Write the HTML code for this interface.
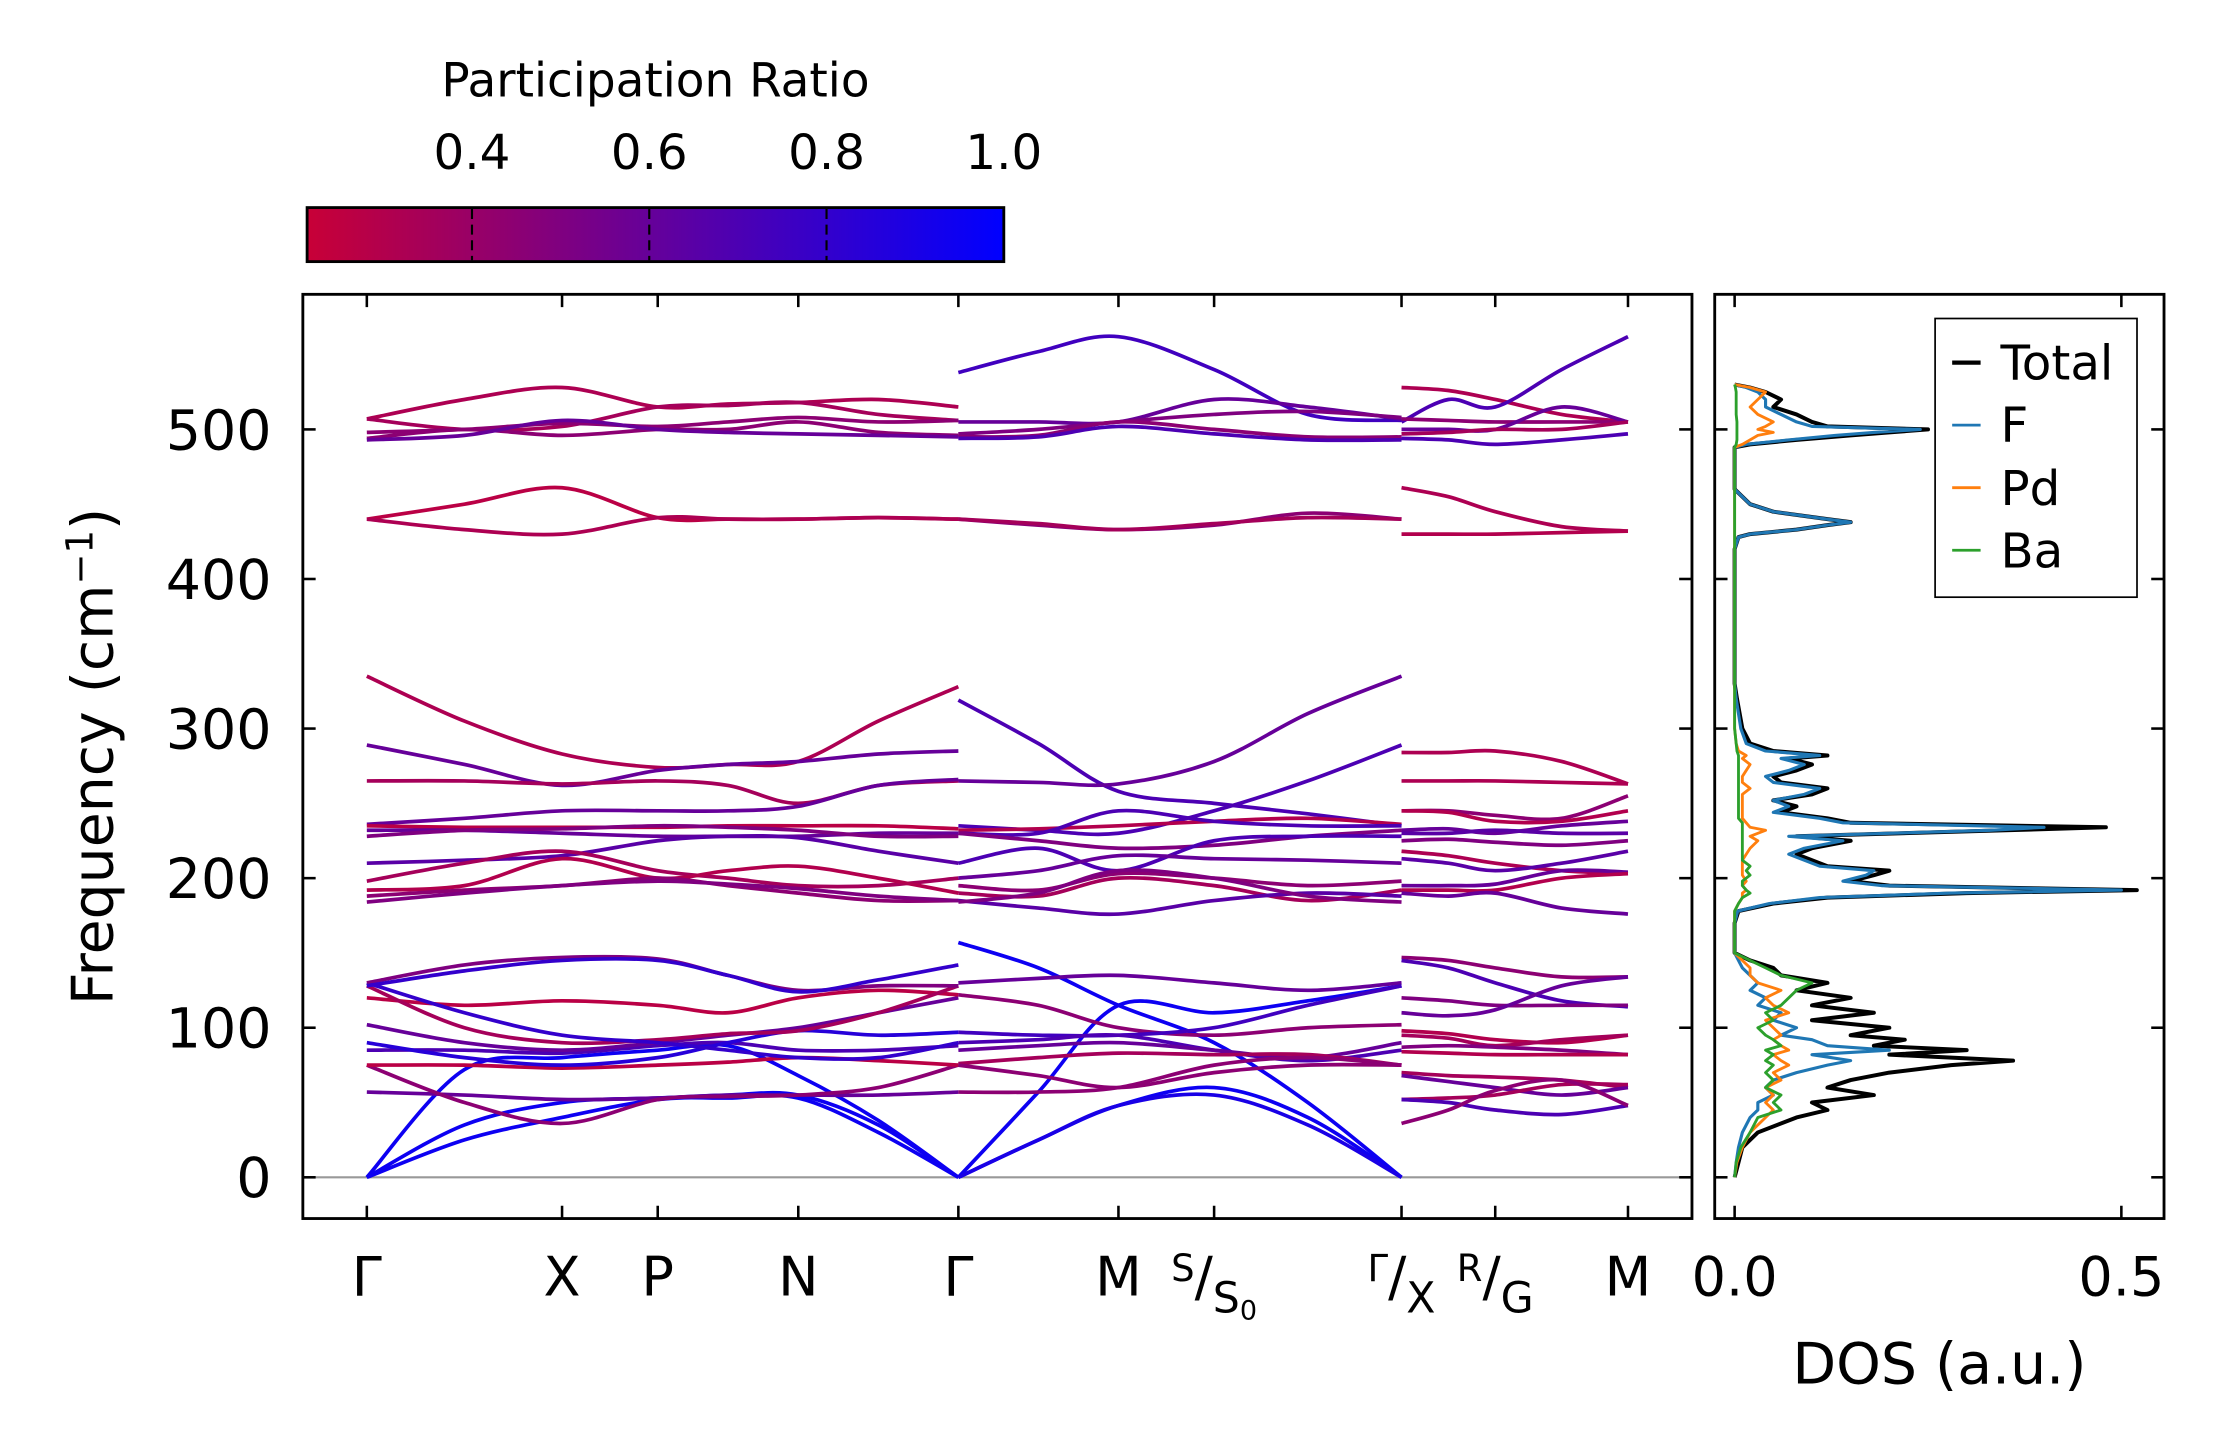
<!DOCTYPE html>
<html><head><meta charset="utf-8"><style>
html,body{margin:0;padding:0;background:#fff;}
svg{display:block;font-family:"DejaVu Sans","Liberation Sans",sans-serif;}
</style></head><body>
<svg id="fig" width="2228" height="1455" viewBox="0 0 1567 1023.3" preserveAspectRatio="none" xmlns="http://www.w3.org/2000/svg">
<defs>
<linearGradient id="cbgrad" x1="0" x2="1" y1="0" y2="0">
<stop offset="0" stop-color="rgb(200,0,55)"/><stop offset="1" stop-color="rgb(0,0,255)"/>
</linearGradient>
<clipPath id="mainclip"><rect x="213" y="207" width="977" height="650"/></clipPath>
<clipPath id="dosclip"><rect x="1206" y="207" width="316" height="650"/></clipPath>
</defs>
<g id="colorbar">
<text x="461" y="68" font-size="33" text-anchor="middle">Participation Ratio</text>
<rect x="216" y="146" width="490" height="38" fill="url(#cbgrad)" stroke="#000" stroke-width="2"/>
<g id="cbticks"></g>
</g>
<g id="mainplot">
<line x1="213" x2="1190" y1="828" y2="828" stroke="#999" stroke-width="1.5"/>
<g id="bands" clip-path="url(#mainclip)"></g>
<rect x="213" y="207" width="977" height="650" fill="none" stroke="#000" stroke-width="2"/>
<g id="mainticks"></g>
<text transform="translate(79,532) rotate(-90)" font-size="40" text-anchor="middle">Frequency (cm<tspan dy="-14" font-size="26">−1</tspan><tspan dy="14">)</tspan></text>
</g>
<g id="dosplot">
<g id="doslines" clip-path="url(#dosclip)"></g>
<rect x="1206" y="207" width="316" height="650" fill="none" stroke="#000" stroke-width="2"/>
<g id="dosticks"></g>
<text x="1364" y="973" font-size="40" text-anchor="middle">DOS (a.u.)</text>
<g id="legend">
<rect x="1361" y="224" width="142" height="196" fill="#fff" stroke="#000" stroke-width="1.2"/>
</g>
</g>
</svg>
<script>
// ---------- Data ----------
const cbTicks = [0.4, 0.6, 0.8, 1.0];
const yTicks = [0, 100, 200, 300, 400, 500];
const kLabels = ["Γ","X","P","N","Γ","M","S/S0","Γ/X","R/G","M"];
const seg1K = [0, 0.5, 1, 1.49, 1.85, 2.21, 2.62, 3.03];
const seg2K = [3.03, 3.44, 3.85, 4.34, 4.82, 5.30];
const seg3K = [5.30, 5.54, 5.78, 6.12, 6.46];
const kTicks = [0, 1, 1.49, 2.21, 3.03, 3.85, 4.34, 5.30, 5.78, 6.46];

const seg1Bands = [
 [0,25,40,52,53,53,30,0],[0,35,50,53,55,55,35,0],[0,72,80,85,88,68,38,0],
 [57,55,52,53,55,55,55,57],[75,50,36,52,54,55,60,75],[75,75,73,75,77,80,78,75],
 [85,85,83,88,90,85,85,88],[90,80,75,80,90,98,95,97],[102,90,85,90,95,100,110,120],
 [120,115,118,115,110,120,125,122],[128,100,90,92,96,98,110,128],[130,110,95,90,85,80,80,90],
 [130,142,147,146,135,125,128,128],[128,138,145,145,135,124,132,142],
 [335,305,283,274,276,278,305,328],[289,276,262,272,276,278,283,285],[265,265,263,265,262,250,262,265],
 [236,240,245,245,245,248,262,266],[235,234,234,234,235,235,235,233],[232,232,230,228,228,228,230,230],
 [228,232,233,235,234,232,228,228],[210,212,215,225,228,227,218,210],[198,210,218,205,200,195,195,200],
 [192,195,213,200,205,208,200,190],[188,192,195,200,195,190,185,185],[184,190,195,198,196,193,188,185],
 [440,450,461,441,440,440,441,440],[440,433,430,441,440,440,441,440],[507,520,528,515,517,518,520,515],
 [507,500,502,515,516,518,510,506],[498,500,504,502,505,508,505,506],[494,500,496,500,500,505,498,496],
 [493,496,506,500,498,497,496,495]
];
const seg1PR = [0.95,0.95,0.95,0.6,0.45,0.27,0.7,0.85,0.6,0.27,0.35,0.8,0.5,0.8,
 0.32,0.6,0.35,0.6,0.27,0.6,0.5,0.65,0.35,0.3,0.45,0.5,0.27,0.32,0.32,0.35,0.45,0.45,0.6];

const seg2Bands = [
 [538,552,562,540,510,506],[505,505,505,520,515,507],[497,500,505,510,512,508],[495,496,505,500,495,495],
 [494,495,502,497,493,493],[440,436,433,436,444,440],[440,437,433,437,441,440],
 [319,290,258,250,243,235],[265,264,263,278,310,335],[235,232,230,245,265,289],[232,233,235,238,240,236],
 [230,230,245,238,235,235],[230,225,220,222,228,232],[210,220,205,225,228,228],[200,205,215,213,212,210],
 [195,192,203,200,195,198],[190,188,200,195,185,192],[185,180,176,185,190,188],[184,190,205,200,188,184],
 [0,57,115,110,118,128],[157,140,115,90,50,0],[0,25,48,60,40,0],[0,25,48,55,35,0],
 [130,133,135,130,125,130],[122,115,100,95,100,102],[97,95,95,100,115,128],[90,92,95,85,78,85],
 [85,88,90,85,80,90],[76,80,83,82,82,75],[75,68,60,70,75,75],[57,57,60,75,80,75]
];
const seg2PR = [0.75,0.6,0.5,0.45,0.7,0.45,0.35,0.7,0.6,0.7,0.3,0.7,0.5,0.7,0.6,0.45,0.35,0.65,0.5,
 0.95,0.95,0.95,0.9,0.6,0.45,0.75,0.7,0.6,0.35,0.45,0.45];

const seg3Bands = [
 [528,526,520,510,505],[505,520,515,540,562],[507,506,505,505,505],[500,500,500,515,505],
 [497,498,500,500,505],[494,493,490,493,497],[461,455,445,435,432],[430,430,430,431,432],
 [284,284,285,278,263],[265,265,265,264,263],[245,245,242,240,255],[245,244,238,238,245],
 [232,233,230,235,238],[230,230,232,230,230],[225,226,224,222,225],[218,215,210,205,203],
 [213,210,205,210,218],[195,195,196,205,204],[192,192,192,200,203],[190,188,190,180,176],
 [147,145,140,134,134],[145,140,130,118,114],[120,118,115,115,115],[110,108,112,128,134],
 [98,96,92,90,95],[95,93,88,92,95],[87,88,87,85,82],[84,83,82,82,82],[70,68,67,65,60],
 [68,64,60,55,60],[52,53,55,62,62],[52,50,45,42,48],[36,45,58,65,48]
];
const seg3PR = [0.32,0.7,0.45,0.6,0.35,0.7,0.32,0.3,0.32,0.32,0.45,0.3,0.6,0.65,0.5,0.32,0.65,0.6,0.3,0.6,
 0.45,0.7,0.5,0.6,0.3,0.35,0.5,0.3,0.35,0.6,0.35,0.7,0.45];

const dosFreq = [0,10,20,30,40,45,50,55,60,65,70,75,78,82,85,88,92,95,100,105,110,115,120,125,130,135,140,145,150,
 170,178,183,187,190,192,195,198,202,205,208,212,216,220,225,228,232,234,237,240,244,248,252,256,260,264,268,272,276,280,282,285,290,300,320,330,
 420,428,430,433,436,438,440,445,450,455,460,
 488,490,493,496,498,500,502,505,510,515,520,525,528,530];
const dosTotal = [0,0.005,0.01,0.03,0.08,0.12,0.1,0.18,0.12,0.15,0.2,0.28,0.36,0.2,0.3,0.18,0.22,0.15,0.2,0.1,0.18,0.1,0.15,0.08,0.12,0.06,0.05,0.02,0,
 0,0.005,0.05,0.12,0.3,0.52,0.2,0.15,0.18,0.2,0.12,0.1,0.08,0.1,0.15,0.08,0.35,0.48,0.15,0.12,0.06,0.08,0.05,0.1,0.12,0.06,0.05,0.08,0.1,0.07,0.12,0.05,0.02,0.01,0.003,0,
 0,0.005,0.02,0.08,0.12,0.15,0.12,0.05,0.02,0.01,0,
 0,0.02,0.08,0.15,0.2,0.25,0.12,0.1,0.08,0.05,0.06,0.04,0.02,0];
const dosF = [0,0.002,0.005,0.01,0.02,0.03,0.03,0.05,0.04,0.05,0.08,0.12,0.15,0.1,0.2,0.12,0.1,0.06,0.08,0.05,0.06,0.03,0.04,0.02,0.03,0.02,0.01,0.005,0,
 0,0.004,0.045,0.11,0.28,0.5,0.19,0.14,0.17,0.18,0.11,0.09,0.07,0.09,0.14,0.07,0.33,0.4,0.14,0.11,0.05,0.07,0.05,0.09,0.11,0.05,0.04,0.07,0.09,0.06,0.11,0.04,0.015,0.008,0.002,0,
 0,0.005,0.02,0.08,0.12,0.15,0.12,0.05,0.02,0.01,0,
 0,0.015,0.07,0.13,0.18,0.24,0.1,0.08,0.06,0.04,0.04,0.03,0.015,0];
const dosPd = [0,0.003,0.01,0.02,0.04,0.05,0.04,0.05,0.04,0.06,0.05,0.07,0.06,0.05,0.07,0.06,0.05,0.06,0.05,0.04,0.07,0.05,0.04,0.06,0.03,0.02,0.02,0.01,0,
 0,0,0.005,0.01,0.01,0.015,0.01,0.015,0.01,0.01,0.01,0.01,0.015,0.02,0.03,0.02,0.04,0.02,0.015,0.01,0.01,0.01,0.01,0.01,0.02,0.01,0.01,0.015,0.02,0.01,0.015,0.005,0.002,0,0,0,
 0,0,0,0,0,0,0,0,0,0,0,
 0,0.01,0.02,0.03,0.05,0.03,0.04,0.05,0.03,0.02,0.03,0.04,0.02,0];
const dosBa = [0,0.002,0.008,0.02,0.03,0.06,0.05,0.06,0.04,0.05,0.04,0.05,0.04,0.05,0.04,0.06,0.05,0.04,0.03,0.05,0.04,0.06,0.07,0.08,0.1,0.06,0.04,0.02,0,
 0,0,0.005,0.01,0.02,0.015,0.01,0.01,0.02,0.015,0.02,0.01,0.01,0.01,0.01,0.01,0.01,0.01,0.01,0.005,0.005,0.005,0.005,0.005,0.005,0.005,0.005,0.005,0.005,0.005,0.005,0.003,0.002,0,0,0,
 0,0,0,0,0,0,0,0,0,0,0,
 0,0.002,0.003,0.003,0.003,0.003,0.003,0.003,0.002,0.002,0.002,0.002,0.001,0];
const dosTicks = [0.0, 0.5];
const legendNames = ["Total","F","Pd","Ba"];

// ---------- Axes ----------
const NS = "http://www.w3.org/2000/svg";
const kMax = 6.46;
function xK(k){ return 258 + (1145-258)*k/kMax; }
function yF(f){ return 828 - f*1.052; }
function xD(d){ return 1220 + (1492-1220)*d/0.5; }
function xCB(v){ return 216 + 490*(v-0.214)/(1-0.214); }
function prColor(v){ const t=Math.max(0,Math.min(1,(v-0.214)/(1-0.214)));
 return `rgb(${Math.round(200*(1-t))},0,${Math.round(55+200*t)})`; }
function mk(tag, attrs, parent){ const e=document.createElementNS(NS,tag); for(const a in attrs) e.setAttribute(a,attrs[a]); parent.appendChild(e); return e; }
function smoothPath(pts){
 let d=`M${pts[0][0]},${pts[0][1]}`;
 for(let i=0;i<pts.length-1;i++){
  const p0=pts[Math.max(0,i-1)],p1=pts[i],p2=pts[i+1],p3=pts[Math.min(pts.length-1,i+2)];
  const c1=[p1[0]+(p2[0]-p0[0])/6,p1[1]+(p2[1]-p0[1])/6], c2=[p2[0]-(p3[0]-p1[0])/6,p2[1]-(p3[1]-p1[1])/6];
  d+=` C${c1[0]},${c1[1]} ${c2[0]},${c2[1]} ${p2[0]},${p2[1]}`;
 }
 return d;
}

// colorbar ticks
const cbG = document.getElementById('cbticks');
cbTicks.forEach(v=>{
 const x=xCB(v);
 if(v<1){ const l=mk('line',{x1:x,x2:x,y1:147,y2:183,stroke:'#000','stroke-width':1.5,'stroke-dasharray':'7,4'},cbG);
  
   }
 const t=mk('text',{x:x,y:119,'font-size':34,'text-anchor':'middle'},cbG); t.textContent=v.toFixed(1);
 
 
});

// bands
const bandsG=document.getElementById('bands');
function drawSeg(ks, bands, prs, segName){
 bands.forEach((b,i)=>{
  const pts=b.map((f,j)=>[xK(ks[j]),yF(f)]);
  const p=mk('path',{d:smoothPath(pts),fill:'none',stroke:prColor(prs[i]),'stroke-width':2.6},bandsG);
  
  
 });
}
drawSeg(seg1K,seg1Bands,seg1PR,'segment1');
drawSeg(seg2K,seg2Bands,seg2PR,'segment2');
drawSeg(seg3K,seg3Bands,seg3PR,'segment3');

// main ticks
const mt=document.getElementById('mainticks');
yTicks.forEach(v=>{
 const y=yF(v);
 mk('line',{x1:213,x2:222,y1:y,y2:y,stroke:'#000','stroke-width':1.8},mt);
 mk('line',{x1:1181,x2:1190,y1:y,y2:y,stroke:'#000','stroke-width':1.8},mt);
 const t=mk('text',{x:191,y:y+14,'font-size':39,'text-anchor':'end'},mt); t.textContent=String(v);
 
 
});
kTicks.forEach((k,i)=>{
 const x=xK(k);
 mk('line',{x1:x,x2:x,y1:848,y2:857,stroke:'#000','stroke-width':1.8},mt);
 mk('line',{x1:x,x2:x,y1:207,y2:216,stroke:'#000','stroke-width':1.8},mt);
 const lab=kLabels[i];
 const t=mk('text',{x:x,y:911,'font-size':38,'text-anchor':'middle'},mt);
 
 
 if(lab.includes('/')){
  const [a,b]=lab.split('/');
  const sup=a, sub=b.replace('0','');
  t.innerHTML=`<tspan font-size="26" dy="-10">${sup}</tspan><tspan dy="10">/</tspan><tspan font-size="30" dy="12">${sub}</tspan>`+(b.includes('0')?`<tspan font-size="19" dy="5">0</tspan>`:'');
 } else t.textContent=lab;
});

// DOS
const dl=document.getElementById('doslines');
function dosLine(arr,color,w,name){
 const d=dosFreq.map((f,i)=>(i?'L':'M')+xD(arr[i])+','+yF(f)).join(' ');
 const p=mk('path',{d:d,fill:'none',stroke:color,'stroke-width':w,'stroke-linejoin':'round'},dl);
 
 
}
dosLine(dosTotal,'#000',2.8,'dos-total-line');
dosLine(dosF,'#1f77b4',2.2,'dos-f-line');
dosLine(dosPd,'#ff7f0e',2,'dos-pd-line');
dosLine(dosBa,'#2ca02c',2,'dos-ba-line');
const dt=document.getElementById('dosticks');
yTicks.forEach(v=>{const y=yF(v);
 mk('line',{x1:1206,x2:1215,y1:y,y2:y,stroke:'#000','stroke-width':1.8},dt);
 mk('line',{x1:1513,x2:1522,y1:y,y2:y,stroke:'#000','stroke-width':1.8},dt);});
dosTicks.forEach(v=>{const x=xD(v);
 mk('line',{x1:x,x2:x,y1:848,y2:857,stroke:'#000','stroke-width':1.8},dt);
 mk('line',{x1:x,x2:x,y1:207,y2:216,stroke:'#000','stroke-width':1.8},dt);
 const t=mk('text',{x:x,y:911,'font-size':38,'text-anchor':'middle'},dt); t.textContent=v.toFixed(1);
 
 
});
const lg=document.getElementById('legend');
const lcol=['#000','#1f77b4','#ff7f0e','#2ca02c'];
legendNames.forEach((n,i)=>{
 const y=255+i*44;
 mk('line',{x1:1373,x2:1393,y1:y,y2:y,stroke:lcol[i],'stroke-width':i?2:3},lg);
 const t=mk('text',{x:1407,y:y+12,'font-size':34},lg); t.textContent=n;
 
 
});
</script>
</body></html>
